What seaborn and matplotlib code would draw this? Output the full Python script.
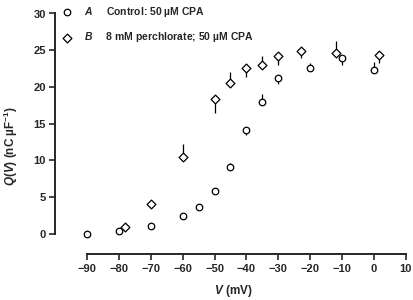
import numpy as np
import pandas as pd
import matplotlib
matplotlib.use("Agg")
import matplotlib.pyplot as plt
import seaborn as sns

# A: control, 50 uM CPA
a_v = [-90, -80, -70, -60, -55, -50, -45, -40, -35, -30, -20, -10, 0]
a_q = [0.0, 0.4, 1.05, 2.45, 3.7, 5.8, 9.05, 14.2, 18.0, 21.2, 22.6, 24.0, 22.3]
a_err_lo = [0, 0, 0, 0, 0, 0, 0, 0.7, 0, 0.8, 0, 1.0, 0]
a_err_hi = [0, 0, 0, 0, 0, 0, 0.6, 0, 1.0, 0, 0.7, 0, 1.1]

# B: 8 mM perchlorate, 50 uM CPA
b_v = [-78, -70, -60, -50, -45, -40, -35, -30, -22.7, -11.7, 1.6]
b_q = [1.0, 4.1, 10.5, 18.4, 20.6, 22.6, 23.0, 24.2, 24.9, 24.6, 24.4]
b_err_lo = [0, 0, 0, 1.9, 0, 1.2, 0, 1.2, 0.9, 0, 1.2]
b_err_hi = [0, 0, 1.7, 0, 1.5, 0, 1.2, 0, 0, 1.6, 0]

x_ticks = [-90, -80, -70, -60, -50, -40, -30, -20, -10, 0, 10]
y_ticks = [0, 5, 10, 15, 20, 25, 30]

df_a = pd.DataFrame({"V": a_v, "Q": a_q})
df_b = pd.DataFrame({"V": b_v, "Q": b_q})

sns.set_style("ticks")
plt.rcParams["font.family"] = ["Liberation Sans", "DejaVu Sans"]
plt.rcParams["font.weight"] = "bold"
plt.rcParams["mathtext.fontset"] = "custom"
plt.rcParams["mathtext.rm"] = "Liberation Sans:bold"
plt.rcParams["mathtext.it"] = "Liberation Sans:italic:bold"
plt.rcParams["mathtext.bf"] = "Liberation Sans:bold"

fig = plt.figure(figsize=(4.14, 3.0), dpi=100)
ax = fig.add_axes([0.134, 0.1533, 0.8455, 0.8017])

# error bars (one-sided)
ax.errorbar(a_v, a_q, yerr=[a_err_lo, a_err_hi], fmt="none", ecolor="black",
            elinewidth=0.9, capsize=0, zorder=1)
ax.errorbar(b_v, b_q, yerr=[b_err_lo, b_err_hi], fmt="none", ecolor="black",
            elinewidth=0.9, capsize=0, zorder=1)

sns.scatterplot(data=df_a, x="V", y="Q", marker="o", s=22, color="white",
                edgecolor="black", linewidth=0.9, ax=ax, zorder=3,
                label=r"$A$     Control: 50 µM CPA", clip_on=False)
sns.scatterplot(data=df_b, x="V", y="Q", marker="D", s=20, color="white",
                edgecolor="black", linewidth=0.9, ax=ax, zorder=3,
                label=r"$B$     8 mM perchlorate; 50 µM CPA", clip_on=False)

ax.set_xlim(-100, 10)
ax.set_ylim(-2.73, 30)
ax.set_xticks(x_ticks)
ax.set_yticks(y_ticks)
ax.spines["bottom"].set_bounds(-90, 10)
ax.spines["left"].set_bounds(0, 30)
sns.despine(ax=ax)
for s in ["bottom", "left"]:
    ax.spines[s].set_linewidth(1.4)
ax.tick_params(axis="both", direction="out", length=4, width=1.2,
               labelsize=8, pad=3)
for lab in ax.get_xticklabels() + ax.get_yticklabels():
    lab.set_fontweight("bold")

ax.set_xlabel(r"$V$ (mV)", fontsize=8.5, fontweight="bold")
ax.set_ylabel(r"$Q$($V$) (nC µF$^{-1}$)", fontsize=8.5, fontweight="bold")
ax.xaxis.set_label_coords(0.507, -0.12)
ax.yaxis.set_label_coords(-0.10, 0.45)

leg = ax.legend(loc="upper left", bbox_to_anchor=(61 / 414, 1 - 5 / 300),
                bbox_transform=fig.transFigure, frameon=False, fontsize=7.5,
                handlelength=1.1, handletextpad=1.1, labelspacing=1.1,
                borderpad=0, borderaxespad=0)
for t in leg.get_texts():
    t.set_fontweight("bold")

fig.savefig("out.png", dpi=100)
